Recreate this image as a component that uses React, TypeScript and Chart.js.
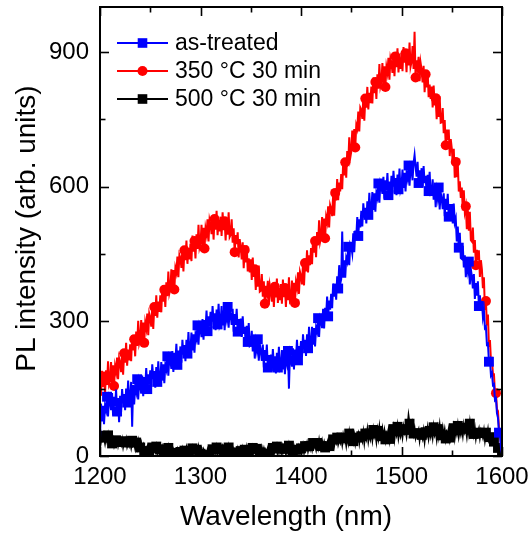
import React, { useEffect, useRef } from "react";
import { Chart, registerables } from "chart.js";

Chart.register(...registerables);

const FONT = "'Liberation Sans', Arial, Helvetica, sans-serif";

const WAVELENGTH_NM = [
  1200, 1201, 1202, 1203, 1204, 1205, 1206, 1207, 1208, 1209,
  1210, 1211, 1212, 1213, 1214, 1215, 1216, 1217, 1218, 1219,
  1220, 1221, 1222, 1223, 1224, 1225, 1226, 1227, 1228, 1229,
  1230, 1231, 1232, 1233, 1234, 1235, 1236, 1237, 1238, 1239,
  1240, 1241, 1242, 1243, 1244, 1245, 1246, 1247, 1248, 1249,
  1250, 1251, 1252, 1253, 1254, 1255, 1256, 1257, 1258, 1259,
  1260, 1261, 1262, 1263, 1264, 1265, 1266, 1267, 1268, 1269,
  1270, 1271, 1272, 1273, 1274, 1275, 1276, 1277, 1278, 1279,
  1280, 1281, 1282, 1283, 1284, 1285, 1286, 1287, 1288, 1289,
  1290, 1291, 1292, 1293, 1294, 1295, 1296, 1297, 1298, 1299,
  1300, 1301, 1302, 1303, 1304, 1305, 1306, 1307, 1308, 1309,
  1310, 1311, 1312, 1313, 1314, 1315, 1316, 1317, 1318, 1319,
  1320, 1321, 1322, 1323, 1324, 1325, 1326, 1327, 1328, 1329,
  1330, 1331, 1332, 1333, 1334, 1335, 1336, 1337, 1338, 1339,
  1340, 1341, 1342, 1343, 1344, 1345, 1346, 1347, 1348, 1349,
  1350, 1351, 1352, 1353, 1354, 1355, 1356, 1357, 1358, 1359,
  1360, 1361, 1362, 1363, 1364, 1365, 1366, 1367, 1368, 1369,
  1370, 1371, 1372, 1373, 1374, 1375, 1376, 1377, 1378, 1379,
  1380, 1381, 1382, 1383, 1384, 1385, 1386, 1387, 1388, 1389,
  1390, 1391, 1392, 1393, 1394, 1395, 1396, 1397, 1398, 1399,
  1400, 1401, 1402, 1403, 1404, 1405, 1406, 1407, 1408, 1409,
  1410, 1411, 1412, 1413, 1414, 1415, 1416, 1417, 1418, 1419,
  1420, 1421, 1422, 1423, 1424, 1425, 1426, 1427, 1428, 1429,
  1430, 1431, 1432, 1433, 1434, 1435, 1436, 1437, 1438, 1439,
  1440, 1441, 1442, 1443, 1444, 1445, 1446, 1447, 1448, 1449,
  1450, 1451, 1452, 1453, 1454, 1455, 1456, 1457, 1458, 1459,
  1460, 1461, 1462, 1463, 1464, 1465, 1466, 1467, 1468, 1469,
  1470, 1471, 1472, 1473, 1474, 1475, 1476, 1477, 1478, 1479,
  1480, 1481, 1482, 1483, 1484, 1485, 1486, 1487, 1488, 1489,
  1490, 1491, 1492, 1493, 1494, 1495, 1496, 1497, 1498, 1499,
  1500, 1501, 1502, 1503, 1504, 1505, 1506, 1507, 1508, 1509,
  1510, 1511, 1512, 1513, 1514, 1515, 1516, 1517, 1518, 1519,
  1520, 1521, 1522, 1523, 1524, 1525, 1526, 1527, 1528, 1529,
  1530, 1531, 1532, 1533, 1534, 1535, 1536, 1537, 1538, 1539,
  1540, 1541, 1542, 1543, 1544, 1545, 1546, 1547, 1548, 1549,
  1550, 1551, 1552, 1553, 1554, 1555, 1556, 1557, 1558, 1559,
  1560, 1561, 1562, 1563, 1564, 1565, 1566, 1567, 1568, 1569,
  1570, 1571, 1572, 1573, 1574, 1575, 1576, 1577, 1578, 1579,
  1580, 1581, 1582, 1583, 1584, 1585, 1586, 1587, 1588, 1589,
  1590, 1591, 1592, 1593, 1594, 1595, 1596, 1597, 1598, 1599,
  1600,
];

const AS_TREATED = [
  40, 117, 77, 112, 71, 112, 102, 132, 88, 131,
  123, 102, 140, 91, 132, 110, 148, 99, 129, 75,
  134, 98, 149, 117, 138, 102, 150, 119, 168, 122,
  129, 165, 65, 158, 115, 155, 143, 171, 126, 168,
  158, 139, 179, 133, 176, 156, 196, 149, 182, 159,
  191, 154, 204, 171, 189, 152, 198, 165, 211, 165,
  171, 209, 168, 204, 162, 203, 193, 222, 179, 221,
  213, 194, 234, 187, 230, 210, 250, 203, 235, 212,
  244, 208, 259, 226, 247, 211, 259, 228, 276, 230,
  237, 275, 235, 271, 230, 271, 261, 291, 248, 291,
  283, 265, 305, 259, 303, 284, 324, 278, 311, 288,
  321, 285, 334, 299, 318, 280, 326, 293, 339, 291,
  299, 334, 291, 324, 280, 318, 305, 332, 286, 326,
  315, 292, 328, 277, 316, 292, 328, 277, 305, 278,
  306, 265, 311, 272, 288, 247, 290, 254, 296, 245,
  247, 279, 233, 264, 217, 252, 236, 260, 212, 249,
  235, 212, 248, 197, 236, 212, 248, 197, 225, 198,
  226, 189, 238, 203, 222, 184, 230, 197, 243, 195,
  201, 236, 193, 226, 182, 220, 207, 234, 150, 228,
  217, 199, 240, 193, 237, 218, 259, 213, 245, 223,
  256, 220, 271, 238, 259, 223, 271, 240, 288, 242,
  249, 288, 248, 285, 244, 286, 277, 307, 265, 308,
  301, 285, 328, 284, 330, 313, 355, 311, 346, 326,
  361, 329, 384, 355, 380, 348, 400, 373, 425, 383,
  394, 500, 397, 436, 397, 441, 433, 466, 425, 471,
  465, 451, 496, 454, 502, 487, 532, 490, 527, 509,
  546, 511, 563, 531, 553, 518, 567, 537, 586, 541,
  549, 588, 548, 585, 544, 586, 576, 607, 564, 608,
  600, 584, 622, 573, 614, 592, 630, 581, 611, 586,
  624, 586, 635, 600, 619, 581, 627, 594, 640, 592,
  601, 638, 597, 631, 589, 629, 618, 647, 602, 644,
  635, 614, 652, 670, 644, 622, 655, 608, 636, 611,
  641, 600, 646, 608, 624, 583, 626, 590, 633, 582,
  584, 616, 571, 601, 554, 590, 574, 598, 549, 587,
  573, 550, 585, 534, 573, 548, 584, 533, 561, 533,
  561, 518, 562, 520, 529, 478, 511, 464, 497, 441,
  439, 468, 420, 447, 398, 430, 412, 433, 382, 416,
  400, 373, 405, 350, 385, 357, 389, 334, 358, 327,
  345, 310, 325, 285, 288, 248, 250, 210, 215, 180,
  185, 158, 160, 125, 128, 95, 85, 52, 45, 18,
  5,
];

const ANNEALED_350C = [
  173, 134, 190, 154, 177, 138, 191, 158, 211, 160,
  168, 209, 163, 202, 156, 200, 187, 219, 171, 218,
  208, 187, 232, 181, 229, 208, 252, 201, 237, 213,
  249, 211, 269, 235, 260, 222, 277, 245, 301, 251,
  261, 303, 258, 297, 252, 297, 284, 317, 269, 317,
  308, 288, 334, 283, 332, 312, 358, 308, 344, 321,
  358, 320, 379, 344, 370, 332, 387, 356, 411, 362,
  372, 416, 373, 414, 371, 419, 409, 444, 398, 448,
  441, 419, 463, 411, 458, 436, 480, 428, 463, 438,
  473, 434, 491, 455, 479, 440, 494, 461, 515, 464,
  473, 515, 469, 508, 462, 507, 494, 527, 478, 526,
  516, 494, 536, 482, 528, 504, 546, 492, 526, 500,
  533, 490, 543, 503, 523, 480, 530, 493, 543, 488,
  493, 527, 475, 507, 454, 492, 472, 498, 442, 483,
  466, 438, 476, 418, 459, 431, 469, 411, 440, 409,
  438, 392, 442, 399, 416, 370, 417, 377, 424, 366,
  368, 405, 355, 389, 339, 379, 362, 390, 337, 380,
  366, 344, 386, 332, 377, 353, 395, 341, 374, 347,
  383, 339, 393, 354, 374, 332, 383, 347, 398, 344,
  348, 391, 346, 386, 341, 387, 375, 409, 361, 410,
  401, 382, 429, 380, 430, 411, 458, 409, 447, 425,
  463, 427, 486, 453, 479, 443, 499, 469, 525, 477,
  488, 532, 488, 529, 485, 532, 521, 556, 509, 559,
  551, 534, 582, 535, 586, 569, 617, 570, 609, 589,
  628, 594, 656, 625, 654, 620, 679, 651, 710, 664,
  678, 725, 684, 728, 687, 737, 729, 767, 723, 776,
  771, 751, 797, 747, 796, 776, 822, 772, 809, 786,
  823, 785, 843, 808, 833, 795, 850, 818, 873, 823,
  833, 875, 829, 868, 822, 867, 854, 887, 838, 886,
  876, 853, 898, 846, 890, 866, 908, 854, 888, 862,
  898, 857, 911, 876, 897, 855, 906, 870, 921, 867,
  878, 913, 862, 945, 843, 881, 863, 889, 835, 876,
  861, 832, 869, 810, 850, 821, 858, 799, 827, 795,
  823, 776, 825, 781, 797, 750, 796, 755, 801, 742,
  743, 775, 719, 748, 692, 727, 704, 727, 668, 706,
  686, 652, 684, 620, 655, 621, 653, 589, 612, 575,
  598, 547, 592, 544, 556, 505, 547, 502, 544, 481,
  478, 509, 453, 481, 425, 459, 436, 458, 399, 436,
  416, 374, 398, 325, 345, 291, 315, 243, 258, 213,
  216, 182, 182, 140, 140, 104, 100, 62, 56, 24,
  10,
];

const ANNEALED_500C = [
  45, 33, 47, 36, 41, 29, 43, 33, 46, 31,
  32, 41, 28, 37, 24, 34, 35, 38, 24, 35,
  31, 25, 36, 21, 33, 27, 37, 22, 30, 23,
  32, 20, 34, 24, 28, 17, 30, 19, 32, 17,
  19, 28, 15, 23, 11, 19, 16, 21, 9, 19,
  15, 9, 19, 5, 16, 10, 21, 6, 14, 6,
  15, 4, 18, 8, 12, 1, 15, 5, 18, 3,
  5, 15, 3, 12, 1, 10, 7, 14, 1, 13,
  9, 3, 14, 1, 12, 6, 17, 2, 11, 5,
  14, 3, 17, 7, 12, 1, 14, 4, 18, 3,
  5, 15, 3, 12, 1, 10, 7, 14, 2, 14,
  10, 4, 15, 1, 13, 7, 19, 4, 13, 6,
  15, 4, 18, 8, 13, 2, 15, 5, 19, 4,
  6, 16, 4, 13, 1, 11, 8, 16, 3, 15,
  11, 5, 16, 2, 14, 8, 19, 4, 13, 6,
  15, 4, 18, 8, 13, 2, 16, 22, 20, 6,
  8, 18, 6, 15, 3, 13, 11, 18, 5, 17,
  13, 7, 18, 4, 16, 10, 21, 6, 15, 8,
  17, 6, 20, 10, 16, 5, 19, 9, 23, 9,
  11, 21, 9, 19, 7, 17, 14, 21, 9, 21,
  17, 11, 23, 9, 22, 16, 27, 12, 22, 15,
  25, 15, 29, 19, 25, 15, 29, 19, 34, 19,
  22, 33, 21, 30, 19, 28, 28, 35, 22, 35,
  31, 25, 37, 23, 36, 30, 41, 27, 36, 30,
  41, 27, 45, 33, 40, 25, 44, 31, 50, 31,
  34, 48, 33, 45, 29, 43, 41, 49, 31, 48,
  44, 35, 52, 31, 50, 40, 57, 35, 50, 39,
  53, 37, 58, 44, 51, 34, 56, 41, 62, 40,
  44, 59, 41, 55, 37, 52, 48, 58, 38, 57,
  52, 43, 60, 39, 57, 48, 65, 42, 56, 46,
  60, 44, 64, 52, 58, 45, 64, 88, 72, 52,
  55, 69, 50, 61, 43, 55, 51, 58, 37, 54,
  47, 39, 55, 34, 53, 45, 61, 41, 56, 45,
  60, 43, 64, 48, 56, 39, 60, 45, 66, 43,
  46, 61, 43, 57, 39, 54, 50, 60, 41, 59,
  54, 45, 62, 42, 60, 50, 67, 45, 59, 49,
  63, 47, 68, 54, 61, 45, 66, 51, 72, 50,
  53, 68, 49, 61, 41, 56, 52, 60, 42, 57,
  51, 42, 56, 36, 52, 43, 57, 36, 42, 33,
  35, 30, 32, 22, 24, 16, 18, 9, 10, 4,
  2,
];

const SERIES_LABELS = ["as-treated", "350 \u00B0C 30 min", "500 \u00B0C 30 min"];
const SERIES_COLORS = ["#0000ff", "#ff0000", "#000000"];
const X_TICKS = [1200, 1300, 1400, 1500, 1600];
const X_MINOR_TICKS = [1250, 1350, 1450, 1550];
const Y_TICKS = [0, 300, 600, 900];
const Y_MINOR_TICKS = [150, 450, 750];
const X_TITLE = "Wavelength (nm)";
const Y_TITLE = "PL intensity (arb. units)";

const SERIES = [
  { label: SERIES_LABELS[0], values: AS_TREATED, color: SERIES_COLORS[0], style: "rect", radius: 7, every: 10, phase: 7 },
  { label: SERIES_LABELS[1], values: ANNEALED_350C, color: SERIES_COLORS[1], style: "circle", radius: 5, every: 10, phase: 4 },
  { label: SERIES_LABELS[2], values: ANNEALED_500C, color: SERIES_COLORS[2], style: "rect", radius: 7, every: 4, phase: 0 },
];

function drawMarker(ctx: CanvasRenderingContext2D, style: string, x: number, y: number, color: string) {
  ctx.fillStyle = color;
  if (style === "circle") {
    ctx.beginPath();
    ctx.arc(x, y, 5, 0, Math.PI * 2);
    ctx.fill();
  } else {
    ctx.fillRect(x - 4.8, y - 4.8, 9.6, 9.6);
  }
}

const framePlugin = {
  id: "originFrame",
  afterDraw(chart: any) {
    const { ctx, chartArea } = chart;
    const { left, right, top, bottom } = chartArea;
    const xs = chart.scales.x;
    const ys = chart.scales.y;
    const MAJOR = 9;
    const MINOR = 5.5;
    ctx.save();
    ctx.strokeStyle = "#000";
    ctx.lineWidth = 1.6;
    const seg = (x1: number, y1: number, x2: number, y2: number) => {
      ctx.beginPath();
      ctx.moveTo(x1, y1);
      ctx.lineTo(x2, y2);
      ctx.stroke();
    };
    const xTick = (v: number, len: number) => {
      const p = Math.round(xs.getPixelForValue(v)) + 0.5;
      seg(p, bottom, p, bottom - len);
      seg(p, top, p, top + len);
    };
    const yTick = (v: number, len: number) => {
      const p = Math.round(ys.getPixelForValue(v)) + 0.5;
      seg(left, p, left + len, p);
      seg(right, p, right - len, p);
    };
    X_TICKS.forEach((v) => xTick(v, MAJOR));
    X_MINOR_TICKS.forEach((v) => xTick(v, MINOR));
    Y_TICKS.forEach((v) => yTick(v, MAJOR));
    Y_MINOR_TICKS.forEach((v) => yTick(v, MINOR));
    ctx.lineWidth = 2;
    ctx.strokeRect(left, top, right - left, bottom - top);

    // legend
    ctx.font = `23px ${FONT}`;
    ctx.textBaseline = "middle";
    ctx.textAlign = "left";
    SERIES.forEach((s, i) => {
      const y = top + 36 + 28 * i;
      ctx.strokeStyle = s.color;
      ctx.lineWidth = 2;
      seg(left + 17, y, left + 68, y);
      drawMarker(ctx, s.style, left + 42.5, y, s.color);
      ctx.fillStyle = "#000";
      ctx.fillText(s.label, left + 75, y + 1);
    });

    // axis titles
    ctx.fillStyle = "#000";
    ctx.font = `28px ${FONT}`;
    ctx.textAlign = "center";
    ctx.textBaseline = "middle";
    ctx.fillText(X_TITLE, 286, 517);
    ctx.save();
    ctx.translate(27, (top + bottom) / 2 - 3);
    ctx.rotate(-Math.PI / 2);
    ctx.fillText(Y_TITLE, 0, 0);
    ctx.restore();
    ctx.restore();
  },
};

export default function App() {
  const canvasRef = useRef<HTMLCanvasElement | null>(null);

  useEffect(() => {
    const canvas = canvasRef.current;
    if (!canvas) return;
    const chart = new Chart(canvas, {
      type: "line",
      data: {
        datasets: SERIES.map((s) => ({
          label: s.label,
          data: WAVELENGTH_NM.map((x, i) => ({ x, y: s.values[i] })),
          borderColor: s.color,
          backgroundColor: s.color,
          borderWidth: 2,
          pointStyle: s.style as any,
          pointRadius: (c: any) => (c.dataIndex % s.every === s.phase ? s.radius : 0),
          pointBorderWidth: 0,
          pointBackgroundColor: s.color,
          tension: 0,
          fill: false,
        })),
      },
      options: {
        responsive: false,
        animation: false,
        events: [],
        layout: { padding: { left: 0, right: 29, top: 7, bottom: 0 } },
        plugins: {
          legend: { display: false },
          tooltip: { enabled: false },
          title: { display: false },
        },
        scales: {
          x: {
            type: "linear",
            min: 1200,
            max: 1600,
            grid: { display: false, drawTicks: false },
            border: { display: false },
            afterBuildTicks: (scale: any) => {
              scale.ticks = X_TICKS.map((value) => ({ value }));
            },
            afterFit: (scale: any) => {
              scale.height = 81;
              scale.paddingLeft = 0;
              scale.paddingRight = 0;
            },
            ticks: {
              color: "#000",
              padding: 7,
              maxRotation: 0,
              autoSkip: false,
              font: { family: FONT, size: 24 },
              callback: (v: any) => String(v),
            },
          },
          y: {
            type: "linear",
            min: 0,
            max: 1000,
            grid: { display: false, drawTicks: false },
            border: { display: false },
            afterBuildTicks: (scale: any) => {
              scale.ticks = Y_TICKS.map((value) => ({ value }));
            },
            afterFit: (scale: any) => {
              scale.width = 100;
              scale.paddingTop = 0;
              scale.paddingBottom = 0;
            },
            ticks: {
              color: "#000",
              padding: 11,
              autoSkip: false,
              font: { family: FONT, size: 24 },
              callback: (v: any) => String(v),
            },
          },
        },
      },
      plugins: [framePlugin],
    });
    return () => chart.destroy();
  }, []);

  return (
    <div style={{ position: "fixed", left: 0, top: 0, width: 531, height: 537, background: "#fff" }}>
      <canvas ref={canvasRef} width={531} height={537} style={{ display: "block" }} />
    </div>
  );
}
